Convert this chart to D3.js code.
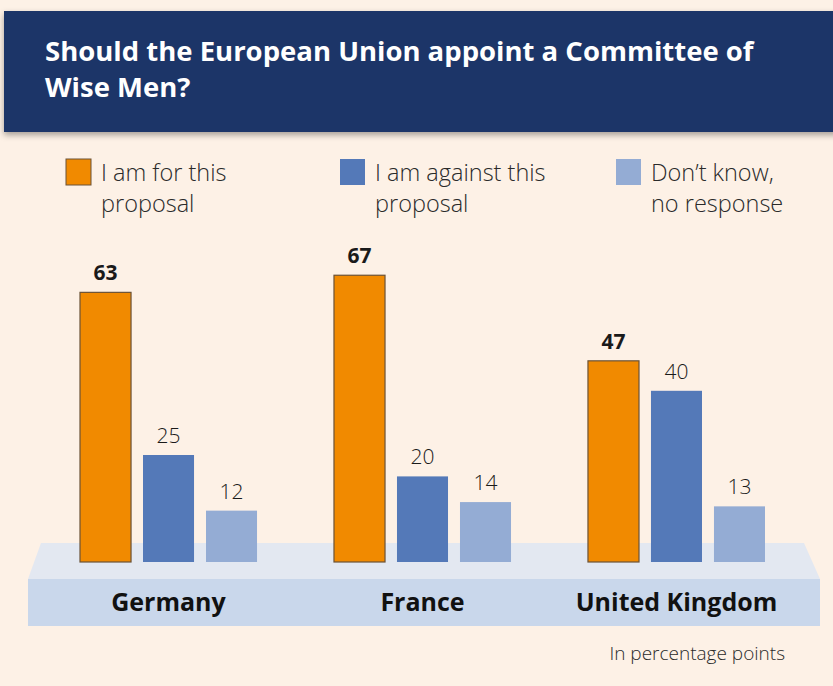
<!DOCTYPE html>
<html>
<head>
<meta charset="utf-8">
<script src="https://cdn.jsdelivr.net/npm/d3@7"></script>
<style>
  body { margin: 0; background: #fdf1e6; }
  svg { display: block; font-family: "Open Sans", "Noto Sans", sans-serif; }
</style>
</head>
<body>
<div id="chart"></div>
<script>
// data
var countries = ["Germany", "France", "United Kingdom"];
var seriesNames = ["I am for this proposal", "I am against this proposal", "Don\u2019t know, no response"];
var legendLines = [["I am for this", "proposal"], ["I am against this", "proposal"], ["Don\u2019t know,", "no response"]];
var forValues = [63, 67, 47];
var againstValues = [25, 20, 40];
var dontKnowValues = [12, 14, 13];
var colors = ["#f18a00", "#5479b8", "#94acd4"];

var width = 833, height = 686;

var svg = d3.select("#chart").append("svg")
  .attr("width", width)
  .attr("height", height);

var defs = svg.append("defs");
var shadow = defs.append("filter").attr("id", "shadow")
  .attr("x", "-5%").attr("y", "-10%").attr("width", "110%").attr("height", "130%");
shadow.append("feDropShadow")
  .attr("dx", 0).attr("dy", 3).attr("stdDeviation", 3)
  .attr("flood-color", "#000").attr("flood-opacity", 0.35);

svg.append("rect")
  .attr("width", width).attr("height", height)
  .attr("fill", "#fdf1e6");

// title band
svg.append("rect")
  .attr("x", 4).attr("y", 11)
  .attr("width", 835).attr("height", 121)
  .attr("fill", "#1b3467")
  .attr("filter", "url(#shadow)");

var title = svg.append("text")
  .attr("fill", "#fff")
  .attr("font-weight", "bold")
  .attr("font-size", 27.5);
title.append("tspan").attr("x", 45).attr("y", 61).text("Should the European Union appoint a Committee of");
title.append("tspan").attr("x", 45).attr("y", 97).text("Wise Men?");

// legend
var legendX = [66, 340, 616];
var legend = svg.selectAll(".legend")
  .data(seriesNames)
  .enter().append("g")
  .attr("class", "legend")
  .attr("transform", function(d, i) { return "translate(" + legendX[i] + ",0)"; });

legend.append("rect")
  .attr("x", 0).attr("y", 159)
  .attr("width", 25).attr("height", 26)
  .attr("fill", function(d, i) { return colors[i]; })
  .attr("stroke", function(d, i) { return i == 0 ? "#6b5236" : "none"; })
  .attr("stroke-width", 1);

legend.each(function(d, i) {
  var t = d3.select(this).append("text")
    .attr("fill", "#2a2a2a")
    .attr("font-size", 23.5)
    .attr("font-weight", 300);
  legendLines[i].forEach(function(line, j) {
    t.append("tspan").attr("x", 35).attr("y", 181 + j * 31).text(line);
  });
});

// platform
svg.append("polygon")
  .attr("points", "41,543 804,543 820,579 28,579")
  .attr("fill", "#e3e8f1");
svg.append("rect")
  .attr("x", 28).attr("y", 579)
  .attr("width", 792).attr("height", 47)
  .attr("fill", "#c9d7eb");

// scales
var y = d3.scaleLinear().domain([0, 100]).range([562, 134]);
var x0 = d3.scaleBand().domain(countries).range([80, 765]).paddingInner(0.303);
var x1 = d3.scaleBand().domain(d3.range(3)).range([0, x0.bandwidth()]).paddingInner(0.19);

var series = [forValues, againstValues, dontKnowValues];
var rows = [];
countries.forEach(function(c, ci) {
  series.forEach(function(vals, si) {
    rows.push({ country: c, s: si, value: vals[ci] });
  });
});

var bars = svg.selectAll(".bar")
  .data(rows)
  .enter().append("g")
  .attr("class", "bar");

bars.append("rect")
  .attr("x", function(d) { return x0(d.country) + x1(d.s); })
  .attr("y", function(d) { return y(d.value); })
  .attr("width", x1.bandwidth())
  .attr("height", function(d) { return y(0) - y(d.value); })
  .attr("fill", function(d) { return colors[d.s]; })
  .attr("stroke", function(d) { return d.s == 0 ? "#6b5236" : "none"; })
  .attr("stroke-width", 1.2);

bars.append("text")
  .attr("x", function(d) { return x0(d.country) + x1(d.s) + x1.bandwidth() / 2; })
  .attr("y", function(d) { return y(d.value) - 12; })
  .attr("text-anchor", "middle")
  .attr("font-size", 21)
  .attr("font-weight", function(d) { return d.s == 0 ? "bold" : 300; })
  .attr("fill", "#1a1a1a")
  .text(function(d) { return d.value; });

// country labels
svg.selectAll(".country")
  .data(countries)
  .enter().append("text")
  .attr("class", "country")
  .attr("x", function(d) { return x0(d) + x0.bandwidth() / 2; })
  .attr("y", 611)
  .attr("text-anchor", "middle")
  .attr("font-size", 25)
  .attr("font-weight", "bold")
  .attr("fill", "#111")
  .text(function(d) { return d; });

svg.append("text")
  .attr("x", 785).attr("y", 660)
  .attr("text-anchor", "end")
  .attr("font-size", 19)
  .attr("font-weight", 300)
  .attr("fill", "#2a2a2a")
  .text("In percentage points");
</script>
</body>
</html>
